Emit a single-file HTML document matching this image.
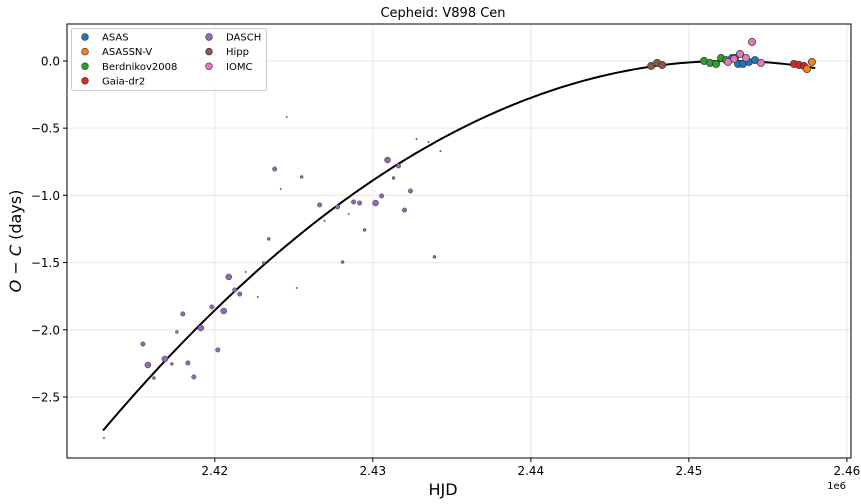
<!DOCTYPE html>
<html><head><meta charset="utf-8"><style>
body{margin:0;background:#fff;}
svg{display:block;font-family:"DejaVu Sans","Liberation Sans",sans-serif;}
</style></head><body>
<svg id="chart" width="861" height="504" viewBox="0 0 861 504">
<rect x="0" y="0" width="861" height="504" fill="#fff"/>
<text x="443" y="17" text-anchor="middle" font-size="13" fill="#000">Cepheid: V898 Cen</text>
<g id="grid"></g>
<g id="fit"></g>
<g id="pts"></g>
<rect x="67" y="24" width="784" height="434" fill="none" stroke="#000" stroke-width="1"/>
<g id="axes"></g>
<text x="443" y="495" text-anchor="middle" font-size="16">HJD</text>
<text x="846" y="489" text-anchor="end" font-size="10">1e6</text>
<text transform="translate(21,241) rotate(-90)" text-anchor="middle" font-size="16"><tspan font-style="italic">O</tspan> − <tspan font-style="italic">C</tspan> (days)</text>
<g id="legend"></g>
</svg>
<script>
const xTicks=[2420000,2430000,2440000,2450000,2460000];
const xTickLabels=["2.42","2.43","2.44","2.45","2.46"];
const yTicks=[0,-0.5,-1,-1.5,-2,-2.5];
const yTickLabels=["0.0","−0.5","−1.0","−1.5","−2.0","−2.5"];
const fitPeak=2452500, fitCoef=0.1756, fitStart=2412930, fitEnd=2458000;
const daschX=[2423412,2420885,2421959,2421264,2421580,2422717,2425182,2419810,2420569,2417978,2419115,2417599,2415450,2420190,2416840,2415766,2417283,2418294,2416145,2418673,2412986,2424550,2423791,2425498,2424171,2430932,2431627,2432764,2433523,2434281,2431311,2432385,2426635,2427772,2428783,2429163,2430174,2430553,2432006,2428467,2426951,2429479,2428088,2433902,2423096];
const daschY=[-1.324,-1.607,-1.570,-1.704,-1.734,-1.756,-1.689,-1.830,-1.860,-1.882,-1.987,-2.016,-2.106,-2.150,-2.217,-2.262,-2.254,-2.247,-2.359,-2.351,-2.805,-0.417,-0.804,-0.863,-0.952,-0.737,-0.781,-0.580,-0.603,-0.670,-0.871,-0.967,-1.071,-1.086,-1.049,-1.057,-1.057,-1.004,-1.109,-1.138,-1.190,-1.257,-1.496,-1.458,-1.503];
const daschW=[1,3,0,2,2,0,0,2,3,2,3,1,2,2,3,3,1,2,1,2,0,0,2,1,0,3,2,0,0,0,1,2,2,2,2,2,3,2,2,0,0,1,1,1,1];
const hippX=[2447614,2447993,2448309], hippY=[-0.037,-0.015,-0.030];
const berdX=[2450963,2451342,2451722,2452038,2452354], berdY=[0.0,-0.015,-0.022,0.022,0.007];
const asasX=[2452733,2453112,2453428,2453807,2454186,2452923], asasY=[0.022,-0.022,-0.022,-0.007,0.007,0.022];
const iomcX=[2452480,2453238,2453617,2453997,2454565,2452860], iomcY=[-0.007,0.052,0.022,0.141,-0.015,0.015];
const gaiaX=[2456650,2456966,2457282], gaiaY=[-0.022,-0.030,-0.037];
const asassnX=[2457472,2457788], asassnY=[-0.060,-0.007];

const NS="http://www.w3.org/2000/svg";
const X0=67,X1=851,Y0=24,Y1=458;
const xMin=2410648,xMax=2460260,yMin=-2.954,yMax=0.275;
function sx(v){return X0+(v-xMin)/(xMax-xMin)*(X1-X0);}
function sy(v){return Y1-(v-yMin)/(yMax-yMin)*(Y1-Y0);}
function mk(tag,attrs,parent){const e=document.createElementNS(NS,tag);for(const k in attrs)e.setAttribute(k,attrs[k]);parent.appendChild(e);return e;}
const grid=document.getElementById('grid'),axes=document.getElementById('axes');
xTicks.forEach((t,i)=>{const x=sx(t);
 const g=mk('line',{x1:x,x2:x,y1:Y0,y2:Y1,stroke:'#e6e6e6','stroke-width':1},grid);
 
 
 mk('line',{x1:x,x2:x,y1:Y1,y2:Y1+4,stroke:'#000'},axes);
 const tx=mk('text',{x:x,y:Y1+17,'text-anchor':'middle','font-size':12},axes);tx.textContent=xTickLabels[i];
 
 
});
yTicks.forEach((t,i)=>{const y=sy(t);
 const g=mk('line',{x1:X0,x2:X1,y1:y,y2:y,stroke:'#e6e6e6','stroke-width':1},grid);
 
 
 mk('line',{x1:X0-4,x2:X0,y1:y,y2:y,stroke:'#000'},axes);
 const tx=mk('text',{x:X0-7,y:y+4.5,'text-anchor':'end','font-size':12},axes);tx.textContent=yTickLabels[i];
 
 
});
// fit
let d='';for(let k=0;k<=200;k++){const x=fitStart+(fitEnd-fitStart)*k/200;const dx=(x-fitPeak)/1e4;const y=-fitCoef*dx*dx;d+=(k?'L':'M')+sx(x).toFixed(2)+','+sy(y).toFixed(2);}
const fp=mk('path',{d:d,fill:'none',stroke:'#000','stroke-width':2},document.getElementById('fit'));


const pts=document.getElementById('pts');
const dr=[0.7,1.5,2.2,3.0];
daschX.forEach((x,i)=>{const c=mk('circle',{cx:sx(x),cy:sy(daschY[i]),r:dr[daschW[i]],fill:'#9467bd',stroke:'#333','stroke-width':0.5},pts);
 
 });
const series=[['hipp',hippX,hippY,'#8c564b'],['berdnikov2008',berdX,berdY,'#2ca02c'],['asas',asasX,asasY,'#1f77b4'],['iomc',iomcX,iomcY,'#e377c2'],['gaia-dr2',gaiaX,gaiaY,'#d62728'],['asassn-v',asassnX,asassnY,'#ff7f0e']];
series.forEach(s=>{s[1].forEach((x,i)=>{const c=mk('circle',{cx:sx(x),cy:sy(s[2][i]),r:3.6,fill:s[3],stroke:'#333','stroke-width':0.7},pts);
 
 });});
// legend
const lg=document.getElementById('legend');
const lb=mk('rect',{x:71.5,y:28.5,width:195,height:62,rx:2,fill:'#fff','fill-opacity':0.8,stroke:'#ccc'},lg);


const items=[['ASAS','#1f77b4',0,0],['ASASSN-V','#ff7f0e',0,1],['Berdnikov2008','#2ca02c',0,2],['Gaia-dr2','#d62728',0,3],['DASCH','#9467bd',1,0],['Hipp','#8c564b',1,1],['IOMC','#e377c2',1,2]];
items.forEach(it=>{const x=it[2]?209:85,y=37+it[3]*14.6;
 const c=mk('circle',{cx:x,cy:y,r:3.4,fill:it[1],stroke:'#333','stroke-width':0.6},lg);
 
 
 const t=mk('text',{x:x+17,y:y+3.6,'font-size':10},lg);t.textContent=it[0];
 
 });
</script>
</body></html>
